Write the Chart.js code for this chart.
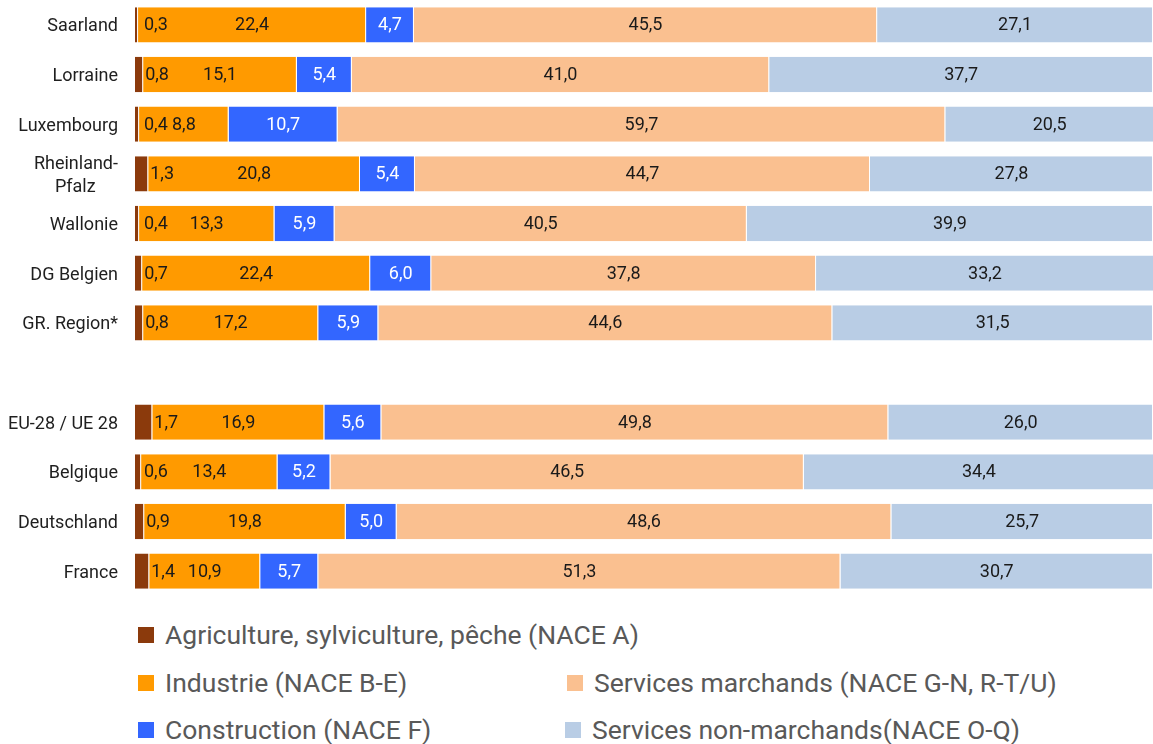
<!DOCTYPE html>
<html>
<head>
<meta charset="utf-8">
<script src="https://cdn.jsdelivr.net/npm/chart.js@4"></script>
<style>
  body { margin: 0; background: #fff; font-family: Roboto, sans-serif; }
  #wrap { position: relative; width: 1153px; height: 596px; }
  #legend { position: relative; width: 1153px; height: 148px; color: #595959; font-size: 26.5px; }
  .item { position: absolute; display: flex; align-items: center; white-space: nowrap; height: 30px; line-height: 30px; }
  .box { width: 16px; height: 16px; margin-right: 11px; }
</style>
</head>
<body>
<div id="wrap"><canvas id="chart"></canvas></div>
<div id="legend"></div>
<script>
const regions = ["Saarland", "Lorraine", "Luxembourg", ["Rheinland-", "Pfalz     "], "Wallonie", "DG Belgien", "GR. Region*", "", "EU-28 / UE 28", "Belgique", "Deutschland", "France"];

const agriculture = [0.3, 0.8, 0.4, 1.3, 0.4, 0.7, 0.8, null, 1.7, 0.6, 0.9, 1.4];
const industrie = [22.4, 15.1, 8.8, 20.8, 13.3, 22.4, 17.2, null, 16.9, 13.4, 19.8, 10.9];
const construction = [4.7, 5.4, 10.7, 5.4, 5.9, 6.0, 5.9, null, 5.6, 5.2, 5.0, 5.7];
const servMarchands = [45.5, 41.0, 59.7, 44.7, 40.5, 37.8, 44.6, null, 49.8, 46.5, 48.6, 51.3];
const servNonMarchands = [27.1, 37.7, 20.5, 27.8, 39.9, 33.2, 31.5, null, 26.0, 34.4, 25.7, 30.7];

const seriesNames = [
  "Agriculture, sylviculture, pêche (NACE A)",
  "Industrie (NACE B-E)",
  "Construction (NACE F)",
  "Services marchands (NACE G-N, R-T/U)",
  "Services non-marchands(NACE O-Q)",
];
const seriesColors = ["#8b3a0c", "#ff9a00", "#3366ff", "#fac090", "#b9cde5"];
const labelColors = ["#1a1a1a", "#1a1a1a", "#ffffff", "#1a1a1a", "#1a1a1a"];

const fmt = (v) => v.toFixed(1).replace(".", ",");

// draws the value labels inside the segments
const segmentLabels = {
  id: "segmentLabels",
  afterDatasetsDraw(chart) {
    const ctx = chart.ctx;
    ctx.save();
    ctx.font = "18px Roboto";
    ctx.textBaseline = "middle";
    chart.data.datasets.forEach((ds, i) => {
      const meta = chart.getDatasetMeta(i);
      meta.data.forEach((bar, j) => {
        const v = ds.data[j];
        if (v == null) return;
        ctx.fillStyle = labelColors[i];
        if (i === 0) {
          ctx.textAlign = "left";
          ctx.fillText(fmt(v), Math.max(bar.x + 2, 144), bar.y + 1);
        } else {
          ctx.textAlign = "center";
          ctx.fillText(fmt(v), (bar.x + bar.base) / 2, bar.y + 1);
        }
      });
    });
    ctx.restore();
  },
};

const seriesData = [agriculture, industrie, construction, servMarchands, servNonMarchands];

new Chart(document.getElementById("chart"), {
  type: "bar",
  data: {
    labels: regions,
    datasets: seriesData.map((d, i) => ({
      label: seriesNames[i],
      data: d,
      backgroundColor: seriesColors[i],
      borderColor: "rgba(255,255,255,0.6)",
      borderWidth: { left: 0, right: 1, top: 0, bottom: 0 },
      borderSkipped: false,
      categoryPercentage: 1,
      barPercentage: 0.71,
    })),
  },
  options: {
    indexAxis: "y",
    responsive: true,
    maintainAspectRatio: false,
    animation: false,
    layout: { padding: 0 },
    plugins: { legend: { display: false }, tooltip: { enabled: false } },
    scales: {
      x: { stacked: true, min: 0, max: 100, display: false },
      y: {
        stacked: true,
        grid: { display: false },
        border: { display: false },
        ticks: {
          autoSkip: false,
          color: "#1f1f1f",
          font: { family: "Roboto", size: 18, lineHeight: 1.3 },
          padding: 9,
          labelOffset: 2,
        },
        afterFit: (axis) => {
          axis.width = 135;
          axis.paddingTop = 0;
          axis.paddingBottom = 0;
        },
      },
    },
  },
  plugins: [segmentLabels],
});

// legend laid out like the reference (3 rows, 2 columns)
const legendPos = [[138, 39], [138, 87], [138, 134], [567, 87], [565, 134]];
const legend = document.getElementById("legend");
seriesNames.forEach((name, i) => {
  const el = document.createElement("div");
  el.className = "item";
  el.style.left = legendPos[i][0] + "px";
  el.style.top = (legendPos[i][1] - 15) + "px";
  el.innerHTML = `<span class="box" style="background:${seriesColors[i]}"></span><span>${name}</span>`;
  legend.appendChild(el);
});
</script>
</body>
</html>
